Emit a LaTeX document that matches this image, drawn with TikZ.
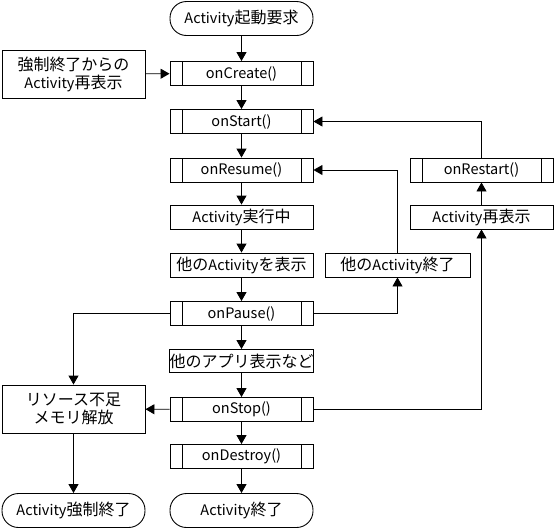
\documentclass[tikz,border=0pt]{standalone}
\usepackage{fontspec}
\setmainfont{Noto Sans CJK JP}
\usetikzlibrary{arrows.meta}
\newcommand\jp[1]{{\fontsize{16}{18}\selectfont #1}}
\begin{document}
\begin{tikzpicture}[x=1pt,y=-1pt,
  every node/.style={font=\fontsize{14.5}{18}\selectfont, inner sep=0pt, line width=0.9pt},
  box/.style={draw, rectangle, minimum width=143pt, minimum height=24pt},
  proc/.style={box, path picture={
     \draw[line width=0.9pt] ([xshift=12pt]path picture bounding box.north west) -- ([xshift=12pt]path picture bounding box.south west);
     \draw[line width=0.9pt] ([xshift=-12pt]path picture bounding box.north east) -- ([xshift=-12pt]path picture bounding box.south east);}},
  term/.style={draw, rectangle, rounded corners=16.5pt, minimum width=143pt, minimum height=34pt},
  tall/.style={box, minimum height=48pt, align=center},
  arr/.style={-{Triangle[length=9pt,width=10pt]}, line width=0.9pt}
]
\useasboundingbox (0,0) rectangle (555,531);
\node[term] (start) at (241.5,18.5) {Activity\jp{起動要求}};
\node[proc] (create) at (241.5,73.5) {onCreate()};
\node[tall] (force) at (73.5,74) {\jp{強制終了からの}\\Activity\jp{再表示}};
\node[proc] (startm) at (241.5,121.5) {onStart()};
\node[proc] (resume) at (241.5,170) {onResume()};
\node[box] (run) at (241.5,217) {Activity\jp{実行中}};
\node[box] (show) at (241.5,265) {\jp{他の}Activity\jp{を表示}};
\node[box, minimum width=145pt] (oend) at (397.5,265) {\jp{他の}Activity\jp{終了}};
\node[proc] (pause) at (241.5,313.5) {onPause()};
\node[box, minimum height=23pt] (app) at (241.5,361) {\jp{他のアプリ表示など}};
\node[proc] (stop) at (241.5,409.5) {onStop()};
\node[tall] (res) at (73.5,409) {\jp{リソース不足}\\\jp{メモリ解放}};
\node[proc] (destroy) at (241.5,456.5) {onDestroy()};
\node[term] (fin) at (241.5,510.5) {Activity\jp{終了}};
\node[term] (ffin) at (73.5,510.5) {Activity\jp{強制終了}};
\node[proc] (restart) at (481.5,170) {onRestart()};
\node[box] (redisp) at (481.5,217) {Activity\jp{再表示}};

\draw[arr] (start) -- (create);
\draw[arr] (force) -- (create);
\draw[arr] (create) -- (startm);
\draw[arr] (startm) -- (resume);
\draw[arr] (resume) -- (run);
\draw[arr] (run) -- (show);
\draw[arr] (show) -- (pause);
\draw[arr] (pause) -- (app);
\draw[arr] (app) -- (stop);
\draw[arr] (stop) -- (destroy);
\draw[arr] (destroy) -- (fin);
\draw[arr] (pause.east) -| (oend.south);
\draw[arr] (oend.north) |- (resume.east);
\draw[arr] (restart.north) |- (startm.east);
\draw[arr] (redisp) -- (restart);
\draw[arr] (stop.east) -| (redisp.south);
\draw[arr] (pause.west) -| (res.north);
\draw[arr] (stop) -- (res);
\draw[arr] (res) -- (ffin);
\end{tikzpicture}
\end{document}
